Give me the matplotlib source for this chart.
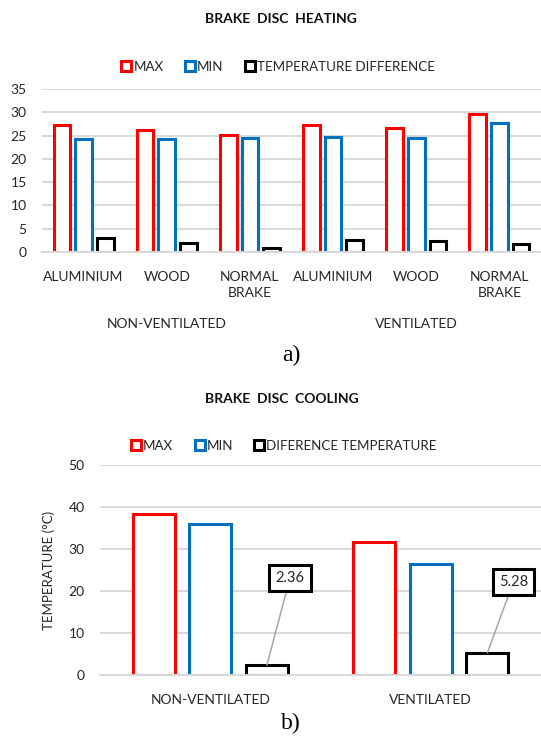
import matplotlib
matplotlib.use("Agg")
import matplotlib.pyplot as plt
from matplotlib.patches import Patch
from matplotlib.transforms import blended_transform_factory
import numpy as np

# ---- data: heating (top panel) ----
heat_materials = ["ALUMINIUM", "WOOD", "NORMAL\nBRAKE", "ALUMINIUM", "WOOD", "NORMAL\nBRAKE"]
heat_groups = ["NON-VENTILATED", "VENTILATED"]
heat_max = [27.2, 26.1, 25.2, 27.2, 26.7, 29.6]
heat_min = [24.3, 24.2, 24.4, 24.6, 24.4, 27.8]
heat_diff = [2.9, 1.9, 0.8, 2.6, 2.3, 1.8]
heat_series = ["MAX", "MIN", "TEMPERATURE DIFFERENCE"]

# ---- data: cooling (bottom panel) ----
cool_cats = ["NON-VENTILATED", "VENTILATED"]
cool_max = [38.3, 31.7]
cool_min = [35.94, 26.42]
cool_diff = [2.36, 5.28]
cool_series = ["MAX", "MIN", "DIFERENCE TEMPERATURE"]

RED = "#FF0000"
BLUE = "#0070C0"
BLACK = "#000000"
GRID = "#D9D9D9"
TXT = "#262626"
FONT = "Lato"

plt.rcParams["font.family"] = [FONT, "DejaVu Sans"]

fig = plt.figure(figsize=(5.41, 7.38), dpi=100)
W, H = 541, 738


def px_axes(left, top, right, bottom):
    return fig.add_axes([left / W, 1 - bottom / H, (right - left) / W, (bottom - top) / H])


def style_axes(ax, ymax, step):
    ax.set_ylim(0, ymax)
    ax.set_yticks(np.arange(0, ymax + 1, step))
    ax.yaxis.grid(True, color=GRID, lw=1.4)
    ax.set_axisbelow(True)
    for s in ("top", "right", "left"):
        ax.spines[s].set_visible(False)
    ax.spines["bottom"].set_color(GRID)
    ax.spines["bottom"].set_linewidth(1.4)
    ax.tick_params(length=0, labelsize=10, colors=TXT, pad=11)
    ax.set_facecolor("white")


def legend_handles(names):
    return [Patch(facecolor="white", edgecolor=c, lw=2.2, label=n)
            for c, n in zip((RED, BLUE, BLACK), names)]


# ---------------- top panel ----------------
ax1 = px_axes(42, 89, 541, 252)
x = np.arange(len(heat_materials))
off, bw = 0.26, 0.2
for vals, col, dx in ((heat_max, RED, -off), (heat_min, BLUE, 0), (heat_diff, BLACK, off)):
    ax1.bar(x + dx, vals, width=bw, facecolor="white", edgecolor=col, lw=2.2)
ax1.set_xlim(-0.5, len(heat_materials) - 0.5)
style_axes(ax1, 35, 5)
ax1.set_xticks(x)
ax1.set_xticklabels(heat_materials, linespacing=1.4)
ax1.tick_params(axis="x", pad=14)

tr = blended_transform_factory(ax1.transData, fig.transFigure)
for i, g in enumerate(heat_groups):
    ax1.text(i * 3 + 1, 1 - 324 / H, g, transform=tr, ha="center", va="center",
             fontsize=10, color=TXT)

fig.text(281 / W, 1 - 19 / H, "BRAKE  DISC  HEATING", ha="center", va="center",
         fontsize=10, fontweight="bold", color="#111111")
fig.legend(handles=legend_handles(heat_series), loc="center", ncol=3,
           bbox_to_anchor=(278 / W, 1 - 67 / H), frameon=False, fontsize=9.6,
           handlelength=0.75, handleheight=0.75, handletextpad=0.15,
           columnspacing=1.6, labelcolor=TXT)
fig.text(291 / W, 1 - 355 / H, "a)", ha="center", va="center",
         fontsize=17, family="Liberation Serif", color="black")

# ---------------- bottom panel ----------------
ax2 = px_axes(100, 465, 541, 675)
x2 = np.arange(len(cool_cats))
off2, bw2 = 0.257, 0.19
for vals, col, dx in ((cool_max, RED, -off2), (cool_min, BLUE, 0), (cool_diff, BLACK, off2)):
    ax2.bar(x2 + dx, vals, width=bw2, facecolor="white", edgecolor=col, lw=2.2)
ax2.set_xlim(-0.5, len(cool_cats) - 0.5)
style_axes(ax2, 50, 10)
ax2.set_xticks(x2)
ax2.set_xticklabels(cool_cats)
ax2.tick_params(axis="x", pad=14)
ax2.set_ylabel("TEMPERATURE (°C)", fontsize=9.5, color=TXT, labelpad=10)

label_offsets = [(23, 87), (26, 71)]
for i, (v, (ox, oy)) in enumerate(zip(cool_diff, label_offsets)):
    ax2.annotate(f"{v:.2f}", xy=(x2[i] + off2, v), xytext=(ox, oy),
                 textcoords="offset pixels", ha="center", va="center",
                 fontsize=10.5, color=TXT,
                 bbox=dict(boxstyle="square,pad=0.42", fc="white", ec="black", lw=2.2),
                 arrowprops=dict(arrowstyle="-", color="#A6A6A6", lw=1.1,
                                 shrinkA=0, shrinkB=0))

fig.text(282 / W, 1 - 399 / H, "BRAKE  DISC  COOLING", ha="center", va="center",
         fontsize=10, fontweight="bold", color="#111111")
fig.legend(handles=legend_handles(cool_series), loc="center", ncol=3,
           bbox_to_anchor=(284 / W, 1 - 446 / H), frameon=False, fontsize=9.6,
           handlelength=0.75, handleheight=0.75, handletextpad=0.15,
           columnspacing=1.6, labelcolor=TXT)
fig.text(291 / W, 1 - 723 / H, "b)", ha="center", va="center",
         fontsize=17, family="Liberation Serif", color="black")

fig.savefig("out.png", dpi=100, facecolor="white")
